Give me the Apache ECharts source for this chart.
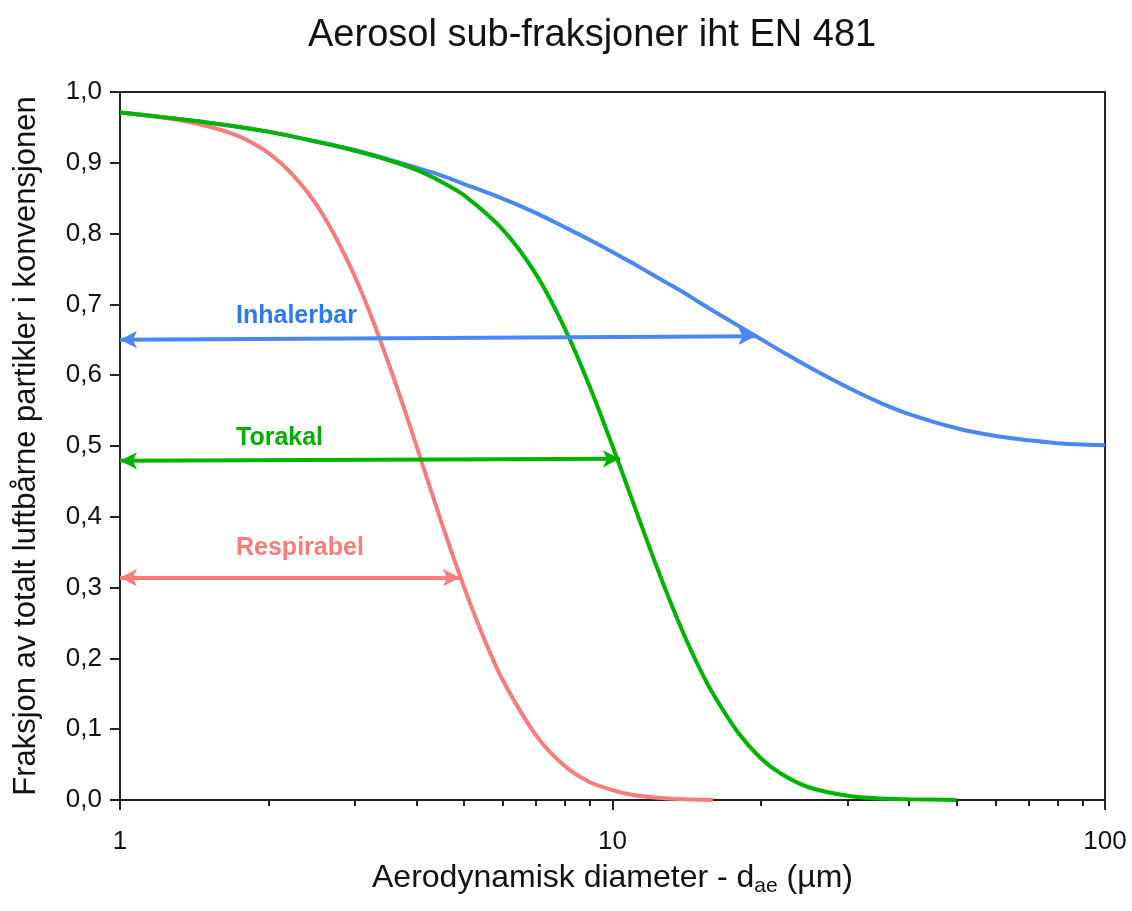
<!DOCTYPE html>
<html>
<head>
<meta charset="utf-8">
<script src="https://cdn.jsdelivr.net/npm/echarts@6/dist/echarts.min.js"></script>
<style>
  html, body { margin: 0; padding: 0; background: #fff; }
  #chart { width: 1132px; height: 911px; }
</style>
</head>
<body>
<div id="chart"></div>
<script>
// diameter (µm) and fraction
const inhDiam = [1, 1.5, 2, 2.5, 3, 3.5, 4, 4.5, 5, 6, 7, 8, 9, 10, 11, 12, 13, 14, 15, 16, 18, 20, 22, 25, 30, 35, 40, 50, 60, 70, 80, 90, 100];
const inhFrac = [0.971, 0.957, 0.944, 0.930, 0.918, 0.905, 0.893, 0.882, 0.870, 0.849, 0.829, 0.809, 0.791, 0.774, 0.758, 0.743, 0.729, 0.716, 0.703, 0.691, 0.670, 0.651, 0.634, 0.612, 0.583, 0.561, 0.545, 0.525, 0.514, 0.508, 0.504, 0.502, 0.501];

const thorDiam = [1, 1.5, 2, 2.5, 3, 3.5, 4, 4.5, 5, 6, 7, 8, 9, 10, 11, 12, 13, 14, 15, 16, 18, 20, 22, 25, 30, 35, 40, 50];
const thorFrac = [0.971, 0.957, 0.944, 0.930, 0.917, 0.904, 0.890, 0.873, 0.854, 0.805, 0.742, 0.666, 0.583, 0.500, 0.421, 0.349, 0.286, 0.232, 0.187, 0.150, 0.095, 0.059, 0.037, 0.018, 0.006, 0.002, 0.001, 0.0];

const respDiam = [1, 1.25, 1.5, 1.75, 2, 2.25, 2.5, 2.75, 3, 3.25, 3.5, 3.75, 4, 4.5, 5, 5.5, 6, 7, 8, 9, 10, 11, 12, 14, 16];
const respFrac = [0.971, 0.963, 0.952, 0.937, 0.914, 0.882, 0.842, 0.793, 0.739, 0.680, 0.619, 0.559, 0.500, 0.391, 0.300, 0.226, 0.168, 0.091, 0.048, 0.025, 0.014, 0.007, 0.004, 0.001, 0.0];

// double arrows: [start diameter, end diameter], y at start and end
const arrowNames = ['Inhalerbar', 'Torakal', 'Respirabel'];
const arrowFrom = [1, 1, 1];
const arrowTo = [19.5, 10.35, 4.9];
const arrowYStart = [0.650, 0.479, 0.314];
const arrowYEnd = [0.655, 0.482, 0.314];
// label anchor (left edge) for each arrow name
const labelX = [1.72, 1.72, 1.72];
const labelY = [0.684, 0.511, 0.356];

const majorTicks = [1, 10, 100];
const minorTicks = [2, 3, 4, 5, 6, 7, 8, 9, 20, 30, 40, 50, 60, 70, 80, 90];

const colors = ['#4a86f5', '#00b400', '#f87c7c'];
const labelColors = ['#2a7bf2', '#00b000', '#f87c7c'];

const zip = (xs, ys) => xs.map((x, i) => [x, ys[i]]);

const chart = echarts.init(document.getElementById('chart'));

const font = 'Liberation Sans, Arial, sans-serif';

function makeSeries(idx, name, data) {
  return {
    name: name,
    type: 'line',
    xAxisIndex: 0,
    data: data,
    smooth: 0.3,
    showSymbol: false,
    lineStyle: { color: colors[idx], width: 4 },
    itemStyle: { color: colors[idx] },
    markLine: {
      silent: true,
      symbol: ['arrow', 'arrow'],
      symbolSize: [13, 17],
      lineStyle: { color: colors[idx], width: 4, type: 'solid' },
      label: { show: false },
      data: [[
        { coord: [arrowFrom[idx], arrowYStart[idx]] },
        { coord: [arrowTo[idx], arrowYEnd[idx]] }
      ]]
    },
    markPoint: {
      silent: true,
      symbol: 'circle',
      symbolSize: 0,
      label: {
        show: true,
        position: 'right',
        distance: 0,
        formatter: arrowNames[idx],
        color: labelColors[idx],
        fontSize: 25,
        fontWeight: 'bold',
        fontFamily: font
      },
      data: [{ coord: [labelX[idx], labelY[idx]] }]
    }
  };
}

const option = {
  animation: false,
  title: {
    text: 'Aerosol sub-fraksjoner iht EN 481',
    left: 303,
    top: 12,
    textStyle: { fontFamily: font, fontSize: 38, fontWeight: 'normal', color: '#111' }
  },
  grid: {
    left: 120, top: 92, right: 27, bottom: 111,
    show: true, borderColor: '#222', borderWidth: 2
  },
  xAxis: [
    {
      type: 'log',
      logBase: 10,
      min: 1,
      max: 100,
      name: 'Aerodynamisk diameter - d{sub|ae} (µm)',
      nameLocation: 'middle',
      nameGap: 60,
      nameTextStyle: {
        fontFamily: font, fontSize: 32, color: '#111',
        rich: { sub: { fontFamily: font, fontSize: 21, color: '#111', verticalAlign: 'bottom', padding: [16, 0, 0, 0] } }
      },
      axisLine: { show: true, lineStyle: { color: '#222', width: 2 } },
      axisTick: { show: true, inside: false, length: 10, customValues: majorTicks, lineStyle: { color: '#222', width: 2 } },
      axisLabel: { customValues: majorTicks, fontFamily: font, fontSize: 26, color: '#111', margin: 29 },
      splitLine: { show: false }
    },
    {
      type: 'log',
      logBase: 10,
      min: 1,
      max: 100,
      position: 'bottom',
      axisLine: { show: false },
      axisTick: { show: true, inside: false, length: 6, customValues: minorTicks, lineStyle: { color: '#222', width: 2 } },
      axisLabel: { show: false },
      splitLine: { show: false }
    }
  ],
  yAxis: {
    type: 'value',
    min: 0,
    max: 1,
    interval: 0.1,
    name: 'Fraksjon av totalt luftbårne partikler i konvensjonen',
    nameLocation: 'middle',
    nameGap: 78,
    nameTextStyle: { fontFamily: font, fontSize: 31, color: '#111' },
    axisLine: { show: true, lineStyle: { color: '#222', width: 2 } },
    axisTick: { show: true, inside: false, length: 10, lineStyle: { color: '#222', width: 2 } },
    axisLabel: {
      fontFamily: font, fontSize: 26, color: '#111', margin: 18,
      formatter: (v) => v.toFixed(1).replace('.', ',')
    },
    splitLine: { show: false }
  },
  series: [
    makeSeries(0, 'Inhalerbar', zip(inhDiam, inhFrac)),
    makeSeries(2, 'Respirabel', zip(respDiam, respFrac)),
    makeSeries(1, 'Torakal', zip(thorDiam, thorFrac))
  ]
};

chart.setOption(option);
</script>
</body>
</html>
